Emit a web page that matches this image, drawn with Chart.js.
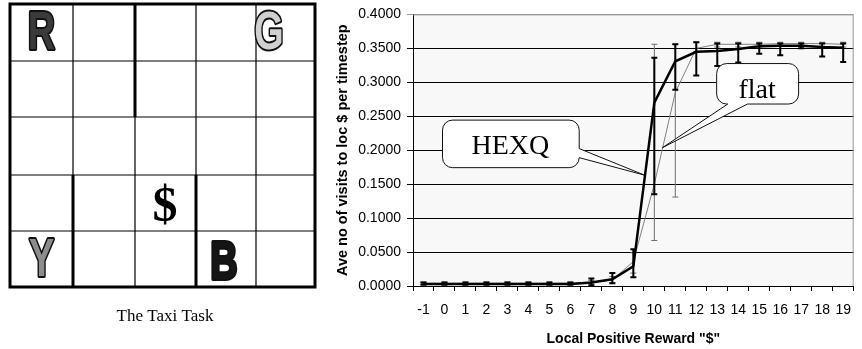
<!DOCTYPE html>
<html>
<head>
<meta charset="utf-8">
<script src="https://cdn.jsdelivr.net/npm/chart.js@4.4.1/dist/chart.umd.min.js"></script>
<style>
html, body { margin: 0; padding: 0; background: #fff; width: 862px; height: 349px; overflow: hidden; }
#taxi { position: absolute; left: 0; top: 0; }
#wrap { position: absolute; left: 330px; top: 0; width: 532px; height: 349px; }
</style>
</head>
<body>
<canvas id="taxi" width="330" height="349"></canvas>
<div id="wrap"><canvas id="chart" width="532" height="349"></canvas></div>
<script>
// reward values on the x axis
const rewards = ['-1', '0', '1', '2', '3', '4', '5', '6', '7', '8', '9', '10',
                 '11', '12', '13', '14', '15', '16', '17', '18', '19'];

// HEXQ series and its error bars
const hexq     = [0.003, 0.003, 0.003, 0.003, 0.003, 0.003, 0.003, 0.003, 0.005, 0.010, 0.029,
                  0.270, 0.331, 0.345, 0.346, 0.349, 0.353, 0.354, 0.354, 0.352, 0.351];
const hexqLow  = [0.002, 0.002, 0.002, 0.002, 0.002, 0.002, 0.002, 0.002, 0.001, 0.004, 0.013,
                  0.135, 0.289, 0.310, 0.324, 0.329, 0.342, 0.340, 0.350, 0.338, 0.330];
const hexqHigh = [0.005, 0.005, 0.005, 0.005, 0.005, 0.005, 0.005, 0.005, 0.011, 0.019, 0.054,
                  0.336, 0.356, 0.359, 0.357, 0.357, 0.357, 0.357, 0.357, 0.357, 0.357];

// flat series and its error bars
const flat     = [0.004, 0.004, 0.004, 0.004, 0.004, 0.004, 0.004, 0.004, 0.005, 0.009, 0.036,
                  0.150, 0.285, 0.350, 0.356, 0.356, 0.356, 0.357, 0.357, 0.357, 0.356];
const flatLow  = [0.002, 0.002, 0.002, 0.002, 0.002, 0.002, 0.002, 0.002, 0.003, 0.005, 0.019,
                  0.067, 0.131, 0.345, 0.352, 0.352, 0.352, 0.353, 0.353, 0.353, 0.352];
const flatHigh = [0.006, 0.006, 0.006, 0.006, 0.006, 0.006, 0.006, 0.006, 0.008, 0.014, 0.049,
                  0.356, 0.356, 0.359, 0.359, 0.359, 0.359, 0.359, 0.359, 0.359, 0.359];

// ---- the taxi grid on the left ----
const tx = document.getElementById('taxi').getContext('2d');
const colsX = [10, 73, 135, 196, 256, 315];
const rowsY = [4, 61, 117, 175, 231, 287];

tx.fillStyle = '#fff';
tx.fillRect(0, 0, 330, 349);
tx.strokeStyle = '#000';
tx.lineWidth = 1.2;
for (let i = 1; i < 5; i++) {
    tx.beginPath();
    tx.moveTo(colsX[i], rowsY[0]); tx.lineTo(colsX[i], rowsY[5]);
    tx.moveTo(colsX[0], rowsY[i]); tx.lineTo(colsX[5], rowsY[i]);
    tx.stroke();
}
// walls
tx.lineWidth = 3;
[[colsX[2], rowsY[0], rowsY[2]], [colsX[1], rowsY[3], rowsY[5]], [colsX[3], rowsY[3], rowsY[5]]]
    .forEach(([x, y0, y1]) => {
        tx.beginPath(); tx.moveTo(x, y0); tx.lineTo(x, y1); tx.stroke();
    });
tx.strokeRect(colsX[0], rowsY[0], colsX[5] - colsX[0], rowsY[5] - rowsY[0]);

function letter(ch, cx, base, fill) {
    tx.save();
    tx.translate(cx, base);
    tx.scale(0.7, 1);
    tx.font = 'bold 54px "Liberation Sans", Arial, sans-serif';
    tx.textAlign = 'center';
    tx.textBaseline = 'alphabetic';
    tx.lineJoin = 'round';
    tx.lineWidth = 4;
    tx.strokeStyle = '#111';
    tx.strokeText(ch, 0, 0);
    tx.fillStyle = fill;
    tx.fillText(ch, 0, 0);
    tx.restore();
}
letter('R', 41.5, 49, '#3a3a3a');
letter('G', 269, 49, '#d0d0d0');
letter('Y', 41.5, 276, '#8c8c8c');
letter('B', 224, 279, '#151515');

tx.fillStyle = '#000';
tx.font = 'bold 50px "Liberation Serif", "Times New Roman", serif';
tx.textAlign = 'center';
tx.fillText('$', 165, 221);

tx.font = '17px "Liberation Serif", "Times New Roman", serif';
tx.fillText('The Taxi Task', 165, 321);

// ---- chart plugins ----
const plotBack = {
    id: 'plotBack',
    beforeDraw(chart) {
        const {ctx, chartArea: a} = chart;
        ctx.save();
        ctx.fillStyle = '#f8f8f8';
        ctx.fillRect(a.left, a.top, a.right - a.left, a.bottom - a.top);
        ctx.restore();
    },
    beforeDatasetsDraw(chart) {
        const {ctx, chartArea: a} = chart;
        ctx.save();
        ctx.strokeStyle = '#9a9a9a';
        ctx.lineWidth = 1;
        ctx.beginPath();
        ctx.moveTo(a.left, a.top + 0.5);
        ctx.lineTo(a.right - 0.5, a.top + 0.5);
        ctx.lineTo(a.right - 0.5, a.bottom);
        ctx.stroke();
        ctx.restore();
    }
};

const errorBars = {
    id: 'errorBars',
    afterDatasetDraw(chart, args) {
        const ds = chart.data.datasets[args.index];
        const y = chart.scales.y;
        const ctx = chart.ctx;
        ctx.save();
        ctx.strokeStyle = ds.errColor;
        ctx.lineWidth = ds.errWidth;
        args.meta.data.forEach((pt, i) => {
            const y0 = y.getPixelForValue(ds.errLow[i]);
            const y1 = y.getPixelForValue(ds.errHigh[i]);
            ctx.beginPath();
            ctx.moveTo(pt.x, y0); ctx.lineTo(pt.x, y1);
            ctx.moveTo(pt.x - 3, y0); ctx.lineTo(pt.x + 3, y0);
            ctx.moveTo(pt.x - 3, y1); ctx.lineTo(pt.x + 3, y1);
            ctx.stroke();
        });
        ctx.restore();
    }
};

// callout boxes, placed in data units (category index, value)
const callouts = [
    {text: 'HEXQ', box: [0.906, 7.42, 0.2443, 0.1743], edge: 'right', attach: [0.2024, 0.1871],
     tip: [10.53, 0.1633], label: [4.14, 0.194]},
    {text: 'flat', box: [13.97, 17.875, 0.3276, 0.268], edge: 'bottom', attach: [14.5, 15.44],
     tip: [11.39, 0.2038], label: [15.9, 0.2776]}
];

const calloutPlugin = {
    id: 'callouts',
    afterDatasetsDraw(chart) {
        const {ctx} = chart;
        const xs = chart.scales.x, ys = chart.scales.y;
        const px = v => xs.getPixelForValue(v);
        const py = v => ys.getPixelForValue(v);
        callouts.forEach(c => {
            const l = px(c.box[0]), r = px(c.box[1]), t = py(c.box[2]), b = py(c.box[3]);
            const rad = 10;
            const tipX = px(c.tip[0]), tipY = py(c.tip[1]);
            ctx.save();
            ctx.beginPath();
            ctx.moveTo(l + rad, t);
            ctx.lineTo(r - rad, t);
            ctx.arcTo(r, t, r, t + rad, rad);
            if (c.edge === 'right') {
                const a1 = py(c.attach[0]), a2 = Math.min(py(c.attach[1]), b - rad);
                ctx.lineTo(r, a1);
                ctx.lineTo(tipX, tipY);
                ctx.lineTo(r, a2);
            }
            ctx.lineTo(r, b - rad);
            ctx.arcTo(r, b, r - rad, b, rad);
            if (c.edge === 'bottom') {
                const a1 = px(c.attach[0]), a2 = px(c.attach[1]);
                ctx.lineTo(a2, b);
                ctx.lineTo(tipX, tipY);
                ctx.lineTo(a1, b);
            }
            ctx.lineTo(l + rad, b);
            ctx.arcTo(l, b, l, b - rad, rad);
            ctx.lineTo(l, t + rad);
            ctx.arcTo(l, t, l + rad, t, rad);
            ctx.closePath();
            ctx.fillStyle = '#fff';
            ctx.fill();
            ctx.strokeStyle = '#111';
            ctx.lineWidth = 1;
            ctx.stroke();
            ctx.fillStyle = '#000';
            ctx.font = '28px "Liberation Serif", "Times New Roman", serif';
            ctx.textAlign = 'center';
            ctx.textBaseline = 'alphabetic';
            ctx.fillText(c.text, px(c.label[0]), py(c.label[1]));
            ctx.restore();
        });
    }
};

const axisFont = {family: '"Liberation Sans", Arial, sans-serif', size: 14};
const titleFont = {family: '"Liberation Sans", Arial, sans-serif', size: 14, weight: 'bold'};

new Chart(document.getElementById('chart'), {
    type: 'line',
    data: {
        labels: rewards,
        datasets: [
            {
                label: 'HEXQ',
                data: hexq,
                errLow: hexqLow,
                errHigh: hexqHigh,
                errColor: '#000',
                errWidth: 2,
                borderColor: '#000',
                borderWidth: 2.5,
                pointRadius: 0,
                tension: 0
            },
            {
                label: 'flat',
                data: flat,
                errLow: flatLow,
                errHigh: flatHigh,
                errColor: '#6e6e6e',
                errWidth: 1,
                borderColor: '#808080',
                borderWidth: 1,
                pointRadius: 0,
                tension: 0
            }
        ]
    },
    options: {
        responsive: false,
        animation: false,
        devicePixelRatio: 1,
        layout: {padding: {top: 6, right: 1, left: 0, bottom: 0}},
        plugins: {
            legend: {display: false},
            tooltip: {enabled: false}
        },
        scales: {
            x: {
                offset: true,
                grid: {offset: true, drawOnChartArea: false, drawTicks: true, tickLength: 5, color: '#000'},
                border: {color: '#000'},
                ticks: {color: '#000', font: axisFont, padding: 11, autoSkip: false, maxRotation: 0},
                title: {
                    display: true,
                    text: 'Local Positive Reward "$"',
                    color: '#000',
                    font: titleFont,
                    padding: {top: 0, bottom: 1}
                },
                afterFit: s => { s.height = 63; }
            },
            y: {
                min: 0,
                max: 0.4,
                ticks: {
                    stepSize: 0.05,
                    color: '#000',
                    font: axisFont,
                    padding: 6,
                    callback: v => v.toFixed(4)
                },
                grid: {
                    color: c => (c.tick && c.tick.value > 0.399) ? '#9a9a9a' : '#000',
                    tickLength: 6,
                    lineWidth: 1
                },
                border: {color: '#000'},
                title: {
                    display: true,
                    text: 'Ave no of visits to loc $ per timestep',
                    color: '#000',
                    font: {family: '"Liberation Sans", Arial, sans-serif', size: 14.5, weight: 'bold'},
                    padding: {top: 4, bottom: 0}
                },
                afterFit: s => { s.width = 83; }
            }
        }
    },
    plugins: [plotBack, errorBars, calloutPlugin]
});
</script>
</body>
</html>
